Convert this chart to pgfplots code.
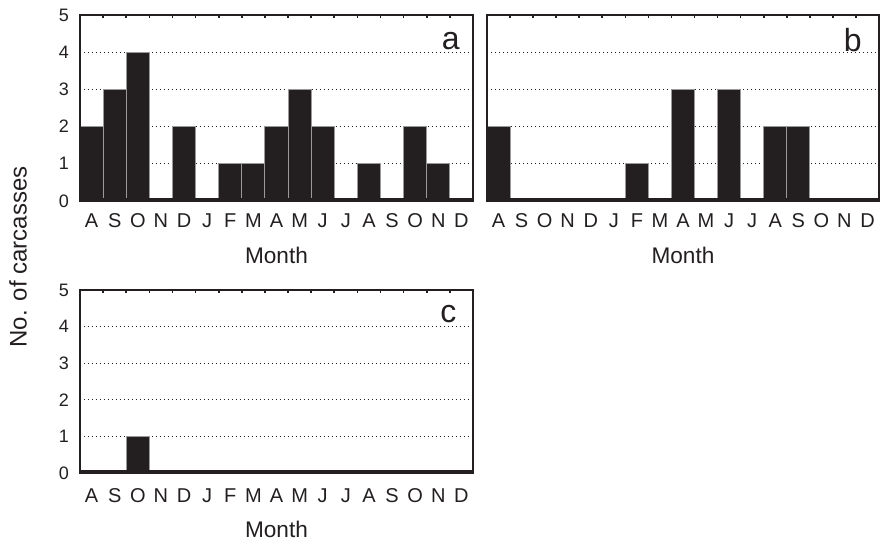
\documentclass[border=0pt]{standalone}
\usepackage{fontspec}
\setmainfont{Liberation Sans}
\usepackage{pgfplots}
\pgfplotsset{compat=1.18}
\definecolor{ink}{HTML}{231F20}
\definecolor{edge}{HTML}{9A9A9A}

\pgfplotsset{
  panel/.style={
    scale only axis, width=196.5pt, height=93pt,
    xmin=-0.5, xmax=16.5, ymin=0, ymax=5,
    axis on top,
    axis line style={ink, line width=1pt},
    xtick={0,...,16},
    xticklabels={A,S,O,N,D,J,F,M,A,M,J,J,A,S,O,N,D},
    minor xtick={0.5,1.5,...,15.5},
    xtick pos=right, xticklabel pos=left,
    ytick={0,...,5},
    major tick length=0pt, minor tick length=1.6pt,
    tick align=inside,
    minor tick style={ink, line width=0.8pt},
    xticklabel style={anchor=base, yshift=-13pt, font=\fontsize{10}{10}\selectfont, text=ink},
    yticklabel style={anchor=east, xshift=-2pt, font=\fontsize{9}{9}\selectfont, text=ink},
    xlabel={Month},
    xlabel style={at={(axis description cs:0.5,0)}, anchor=base, yshift=-31pt, font=\fontsize{11.3}{11.3}\selectfont, text=ink},
  },
  bars/.style={ybar, bar width=1, bar shift=0pt, fill=ink, draw=edge, line width=0.5pt},
  gridl/.style={ink, line width=0.6pt, dash pattern=on 0.6pt off 1.4pt, forget plot},
  base/.style={ink, line width=3pt, forget plot},
}
\tikzset{letter/.style={anchor=base east, font=\fontsize{16}{16}\selectfont, text=ink, inner sep=0pt}}

\newcommand{\gridlines}{%
  \addplot[gridl] coordinates {(-0.5,1) (16.5,1)};
  \addplot[gridl] coordinates {(-0.5,2) (16.5,2)};
  \addplot[gridl] coordinates {(-0.5,3) (16.5,3)};
  \addplot[gridl] coordinates {(-0.5,4) (16.5,4)};
}

\begin{document}
\begin{tikzpicture}
\useasboundingbox (0,0) rectangle (440pt,-271.5pt);

% panel a
\begin{axis}[panel, at={(40pt,-100.5pt)}, anchor=south west, yticklabels={0,1,2,3,4,5}]
\gridlines
\addplot[bars] coordinates {(0,2) (1,3) (2,4) (3,0) (4,2) (5,0) (6,1) (7,1) (8,2) (9,3) (10,2) (11,0) (12,1) (13,0) (14,2) (15,1) (16,0)};
\addplot[base] coordinates {(-0.5,0) (16.5,0)};
\node[letter] at (rel axis cs:0.967,0.817) {a};
\end{axis}

% panel b
\begin{axis}[panel, at={(243.5pt,-100.5pt)}, anchor=south west, width=196pt, yticklabels={}]
\gridlines
\addplot[bars] coordinates {(0,2) (1,0) (2,0) (3,0) (4,0) (5,0) (6,1) (7,0) (8,3) (9,0) (10,3) (11,0) (12,2) (13,2) (14,0) (15,0) (16,0)};
\addplot[base] coordinates {(-0.5,0) (16.5,0)};
\node[letter] at (rel axis cs:0.957,0.806) {b};
\end{axis}

% panel c
\begin{axis}[panel, at={(40pt,-236.5pt)}, anchor=south west, height=91.5pt, yticklabels={0,1,2,3,4,5},
  xticklabel style={yshift=-1.5pt},
  xlabel style={yshift=-1pt}]
\gridlines
\addplot[bars] coordinates {(0,0) (1,0) (2,1) (3,0) (4,0) (5,0) (6,0) (7,0) (8,0) (9,0) (10,0) (11,0) (12,0) (13,0) (14,0) (15,0) (16,0)};
\addplot[base] coordinates {(-0.5,0) (16.5,0)};
\node[letter] at (rel axis cs:0.959,0.82) {c};
\end{axis}

\node[rotate=90, font=\fontsize{12}{12}\selectfont, text=ink] at (9pt,-128.5pt) {No. of carcasses};
\end{tikzpicture}
\end{document}
